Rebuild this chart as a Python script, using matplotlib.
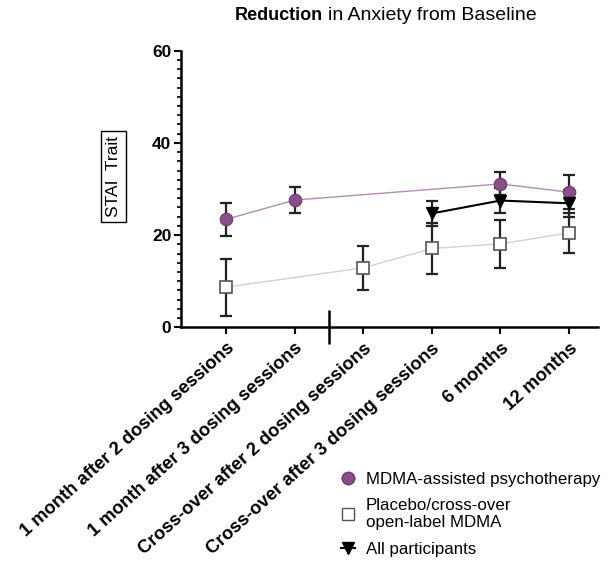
import matplotlib
matplotlib.use("Agg")
import matplotlib.pyplot as plt
from matplotlib.lines import Line2D
from matplotlib.ticker import MultipleLocator

plt.rcParams['font.family'] = ['Liberation Sans', 'DejaVu Sans']

# categories on the x axis
categories = ["1 month after 2 dosing sessions", "1 month after 3 dosing sessions",
              "Cross-over after 2 dosing sessions", "Cross-over after 3 dosing sessions",
              "6 months", "12 months"]

# MDMA-assisted psychotherapy
mdma_x = [0, 1, 4, 5]
mdma_mean = [23.4, 27.6, 31.1, 29.3]
mdma_err = [3.6, 2.9, 2.5, 3.7]

# Placebo / cross-over open-label MDMA
plac_x = [0, 2, 3, 4, 5]
plac_mean = [8.7, 12.9, 17.1, 18.1, 20.5]
plac_err = [6.2, 4.7, 5.5, 5.2, 4.4]

# All participants
all_x = [3, 4, 5]
all_mean = [24.7, 27.5, 26.9]
all_err = [2.8, 2.7, 2.9]

purple = '#87508a'
purple_line = '#b28db5'

fig = plt.figure(figsize=(6.15, 5.62), dpi=100)
ax = fig.add_axes([0.2943, 0.4176, 0.678, 0.4922])

# connecting lines
ax.plot(plac_x, plac_mean, color='#d2d2d2', lw=1.0, zorder=1)
ax.plot(mdma_x, mdma_mean, color=purple_line, lw=1.0, zorder=1)
ax.plot(all_x, all_mean, color='black', lw=1.5, zorder=1)

# error bars
for xs, ys, es in [(plac_x, plac_mean, plac_err), (mdma_x, mdma_mean, mdma_err),
                   (all_x, all_mean, all_err)]:
    ax.errorbar(xs, ys, yerr=es, fmt='none', ecolor='#222222', elinewidth=1.6,
                capsize=4, capthick=1.6, zorder=2)

# markers
ax.plot(plac_x, plac_mean, 's', ms=9, mfc='white', mec='#555555', mew=1.2, zorder=3)
ax.plot(mdma_x, mdma_mean, 'o', ms=9, mfc=purple, mec='#6a3d6d', mew=0.8, zorder=3)
ax.plot(all_x, all_mean, 'v', ms=8, mfc='black', mec='black', zorder=4)

ax.set_xlim(-0.655, 5.42)
ax.set_ylim(0, 60)

ax.spines['top'].set_visible(False)
ax.spines['right'].set_visible(False)
ax.spines['left'].set_linewidth(1.8)
ax.spines['bottom'].set_linewidth(1.8)

ax.set_yticks([0, 20, 40, 60])
ax.yaxis.set_minor_locator(MultipleLocator(2))
ax.tick_params(axis='y', which='major', length=5, width=1.5, labelsize=12.5, pad=2)
ax.tick_params(axis='y', which='minor', length=3, width=1.2)
for lab in ax.get_yticklabels():
    lab.set_fontweight('bold')

ax.set_xticks(range(len(categories)))
ax.set_xticklabels(categories, fontsize=13.2, fontweight='bold', rotation=42,
                   ha='right', va='top', rotation_mode='anchor')
ax.tick_params(axis='x', which='major', length=5, width=1.5, pad=4)
# group separator tick
ax.set_xticks([1.5], minor=True)
ax.tick_params(axis='x', which='minor', direction='inout', length=25, width=1.8)

# y label in a box
fig.text(0.1846, 0.6856, 'STAI  Trait', rotation=90, fontsize=12.5, ha='center', va='center',
         bbox=dict(boxstyle='square,pad=0.28', fc='white', ec='black', lw=1))

# title with bold first word
fig.text(0.382, 0.973, 'Reduction', fontsize=13, fontweight='bold', ha='left', va='center')
fig.text(0.533, 0.973, 'in Anxiety from Baseline', fontsize=14, ha='left', va='center')

handles = [
    Line2D([], [], color=purple_line, lw=1, marker='o', ms=9, mfc=purple, mec='#6a3d6d'),
    Line2D([], [], color='#e0e0e0', lw=1, marker='s', ms=9, mfc='white', mec='#555555'),
    Line2D([], [], color='black', lw=1.5, marker='v', ms=8, mfc='black'),
]
labels = ['MDMA-assisted psychotherapy', 'Placebo/cross-over\nopen-label MDMA', 'All participants']
fig.legend(handles, labels, loc='upper left', bbox_to_anchor=(0.540, 0.176), frameon=False,
           fontsize=12.2, handlelength=0.85, handletextpad=0.65, borderpad=0, labelspacing=0.68)

fig.savefig('out.png', dpi=100)
